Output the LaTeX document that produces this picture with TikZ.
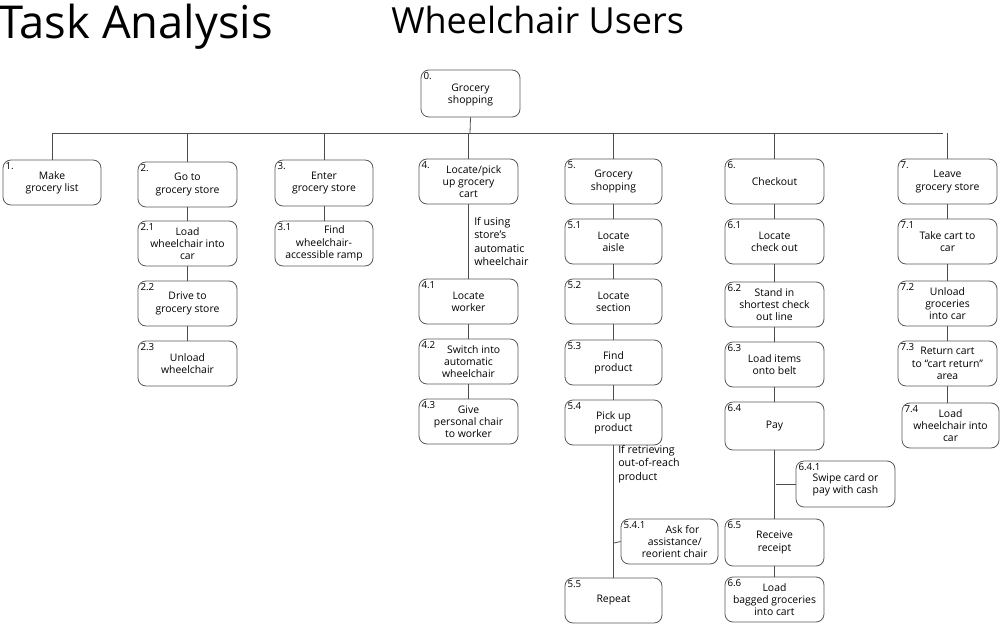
\documentclass[tikz,border=0pt]{standalone}
\usepackage{fontspec}
\setmainfont{Open Sans}
\begin{document}
\begin{tikzpicture}[x=0.75pt,y=-0.75pt,
  bx/.style={draw=black!65,line width=0.6pt,rounded corners=6pt,minimum width=74.25pt,minimum height=34pt,align=center,font=\fontsize{7.8}{9.2}\selectfont,inner sep=1pt},
  num/.style={font=\fontsize{7.3}{8}\selectfont,inner sep=2pt},
  ln/.style={draw=black!70,line width=0.6pt},
  note/.style={font=\fontsize{8}{10}\selectfont,align=left,anchor=north west,inner sep=0pt}]
\useasboundingbox (0,0) rectangle (1000,624);
\newcommand{\bx}[7]{\node[bx,minimum width={(#4-#2)*0.75pt},minimum height={(#5-#3)*0.75pt},label={[num,anchor=north west]north west:#6}] (#1) at ({(#2+#4)/2},{(#3+#5)/2}) {#7};}
\node[anchor=north west,inner sep=0pt,font=\fontsize{34}{34}\selectfont] (t1) at (-2,4) {Task Analysis};
\node[anchor=north west,inner sep=0pt,font=\fontsize{27}{27}\selectfont] (t2) at (391,6) {Wheelchair Users};
\bx{n0}{421}{70}{520}{117}{0.}{\\[-1pt]Grocery\\shopping}
\bx{n1}{3}{160}{101}{205}{1.}{Make\\grocery list}
\bx{n2}{138}{162}{237}{207}{2.}{Go to\\grocery store}
\bx{n21}{138}{221}{237}{266}{2.1}{Load\\wheelchair into\\car}
\bx{n22}{138}{281}{237}{326}{2.2}{Drive to\\grocery store}
\bx{n23}{138}{341}{237}{386}{2.3}{Unload\\wheelchair}
\bx{n3}{275}{160}{373}{206}{3.}{Enter\\grocery store}
\bx{n31}{275}{221}{373}{266}{3.1}{\hspace*{2em}Find\\wheelchair-\\accessible ramp}
\bx{n4}{419}{159}{518}{204}{4.}{\hspace*{1em}Locate/pick\\up grocery\\cart}
\bx{n41}{419}{279}{518}{324}{4.1}{Locate\\worker}
\bx{n42}{419}{339}{518}{384}{4.2}{\hspace*{1em}Switch into\\automatic\\wheelchair}
\bx{n43}{419}{399}{518}{444}{4.3}{Give\\personal chair\\to worker}
\bx{n5}{565}{159}{662}{204}{5.}{Grocery\\shopping}
\bx{n51}{565}{219}{662}{264}{5.1}{Locate\\aisle}
\bx{n52}{565}{279}{662}{324}{5.2}{Locate\\section}
\bx{n53}{565}{340}{662}{385}{5.3}{Find\\product}
\bx{n54}{565}{400}{662}{445}{5.4}{Pick up\\product}
\bx{n541}{621}{519}{718}{564}{5.4.1}{\hspace*{2.5em}Ask for\\\hspace*{1em}assistance/\\\hspace*{1em}reorient chair}
\bx{n55}{565}{578}{662}{623}{5.5}{Repeat}
\bx{n6}{725}{159}{824}{204}{6.}{Checkout}
\bx{n61}{725}{219}{824}{264}{6.1}{Locate\\check out}
\bx{n62}{725}{282}{824}{327}{6.2}{Stand in\\shortest check\\out line}
\bx{n63}{725}{342}{824}{387}{6.3}{Load items\\onto belt}
\bx{n64}{725}{402}{824}{450}{6.4}{Pay}
\bx{n641}{796}{461}{895}{507}{6.4.1}{\\[-2pt]Swipe card or\\pay with cash}
\bx{n65}{725}{519}{824}{566}{6.5}{Receive\\receipt}
\bx{n66}{725}{577}{824}{622}{6.6}{Load\\bagged groceries\\into cart}
\bx{n7}{898}{159}{997}{204}{7.}{Leave\\grocery store}
\bx{n71}{898}{219}{997}{264}{7.1}{Take cart to\\car}
\bx{n72}{898}{281}{997}{326}{7.2}{Unload\\groceries\\into car}
\bx{n73}{898}{341}{997}{386}{7.3}{Return cart\\to ``cart return''\\area}
\bx{n74}{902}{403}{999}{448}{7.4}{Load\\wheelchair into\\car}
\node[note] (l4) at (474,217) {If using\\store's\\automatic\\wheelchair};
\node[note] (l5) at (618,445) {If retrieving\\out-of-reach\\product};
\coordinate (bar) at (470,133);
\coordinate (bl) at (52,133);
\coordinate (br) at (943,133);
\coordinate (j54) at (614,543);
\coordinate (j64) at (776,484);
\draw[ln] (bl) -- (br);
\draw[ln] (n0.south) -- (bar);
\foreach \n in {n1,n2,n3,n4,n5,n6,n7} \draw[ln] (\n.north) -- (\n.north |- bl);
\draw[ln] (n2)--(n21) (n21)--(n22) (n22)--(n23) (n3)--(n31)
  (n4)--(n41) (n41)--(n42) (n42)--(n43)
  (n5)--(n51) (n51)--(n52) (n52)--(n53) (n53)--(n54) (n54.south)--(n55.north)
  (n6)--(n61) (n61)--(n62) (n62)--(n63) (n63)--(n64) (n64.south)--(n65.north) (n65)--(n66)
  (n7)--(n71) (n71)--(n72) (n72)--(n73) (n73.south)--(n73.south |- n74.north);
\draw[ln] (j54) -- (n541.west);
\draw[ln] (j64) -- (n641.west);
\end{tikzpicture}
\end{document}
